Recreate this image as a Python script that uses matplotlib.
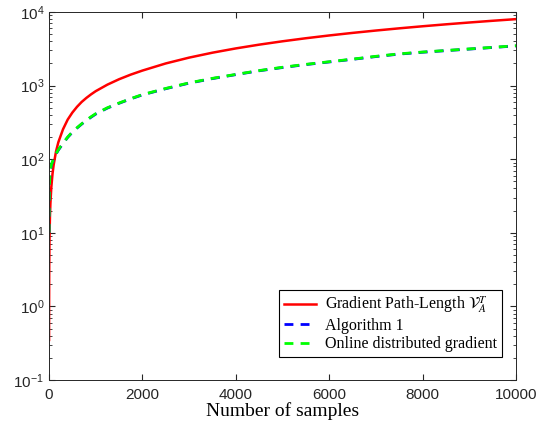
import numpy as np
import matplotlib
matplotlib.use("Agg")
import matplotlib.pyplot as plt

# values (log y axis)
samples = [1, 2, 5, 10, 20, 30, 50, 75, 100, 150, 200, 300, 400, 500, 600,
           700, 800, 900, 1000, 1250, 1500, 1750, 2000, 2500, 3000, 3500,
           4000, 4500, 5000, 5500, 6000, 6500, 7000, 7500, 8000, 8500, 9000,
           9500, 10000]
path_length = [0.35, 1.0, 3.5, 8, 16.5, 25, 42, 63, 84, 127, 170, 255, 345,
               430, 515, 600, 680, 760, 840, 1030, 1220, 1410, 1600, 2000,
               2400, 2800, 3200, 3600, 4000, 4400, 4800, 5200, 5600, 6000,
               6400, 6800, 7200, 7600, 8000]
algorithm1 = [10, 16, 29, 44, 61, 71, 83, 92, 99, 117, 133, 163, 198, 232,
              265, 300, 336, 372, 410, 495, 575, 660, 748, 908, 1080, 1245,
              1410, 1590, 1760, 1930, 2095, 2275, 2480, 2680, 2840, 2985,
              3135, 3295, 3460]
online_grad = [10, 16, 30, 45, 62, 72, 84, 93, 100, 118, 135, 165, 200, 235,
               268, 303, 340, 377, 415, 500, 580, 665, 755, 915, 1090, 1255,
               1420, 1600, 1775, 1945, 2110, 2290, 2500, 2700, 2860, 3000,
               3150, 3310, 3480]

plt.rcParams['font.family'] = ['Liberation Sans', 'DejaVu Sans']
plt.rcParams['mathtext.fontset'] = 'stix'
plt.rcParams['mathtext.default'] = 'regular'

fig = plt.figure(figsize=(5.51, 4.30), dpi=100)
ax = fig.add_axes([49/551, 1 - 380/430, 467/551, 368/430])

ax.plot(samples, path_length, color='red', lw=1.8,
        label=r'Gradient Path-Length $\mathcal{V}_{\mathit{A}}^{\mathit{T}}$')
ax.plot(samples, algorithm1, color='blue', lw=2.0, dashes=(3.2, 2.6),
        label='Algorithm 1')
ax.plot(samples, online_grad, color=(0, 1, 0), lw=2.0, dashes=(3.2, 2.6),
        label='Online distributed gradient')

ax.set_yscale('log')
ax.set_xlim(0, 10000)
ax.set_ylim(0.1, 1e4)
ax.set_xticks([0, 2000, 4000, 6000, 8000, 10000])
ax.tick_params(which='both', direction='in', top=True, right=True,
               labelsize=11, colors='#262626')
ax.tick_params(which='major', length=4)
ax.tick_params(which='minor', length=2)
ax.tick_params(axis='x', pad=6)
for s in ax.spines.values():
    s.set_color('#262626')
    s.set_linewidth(0.7)

ax.set_xlabel('Number of samples', family=['Liberation Serif'], fontsize=14,
              labelpad=0)

leg = ax.legend(loc='lower right', bbox_to_anchor=(0.970, 0.0625),
                borderaxespad=0, fancybox=False, edgecolor='black',
                framealpha=1, handlelength=2.0, labelspacing=0.15,
                borderpad=0.3, handletextpad=0.6,
                prop={'family': 'Liberation Serif', 'size': 11.5})
leg.get_frame().set_linewidth(0.8)

fig.savefig('out.png', dpi=100)
